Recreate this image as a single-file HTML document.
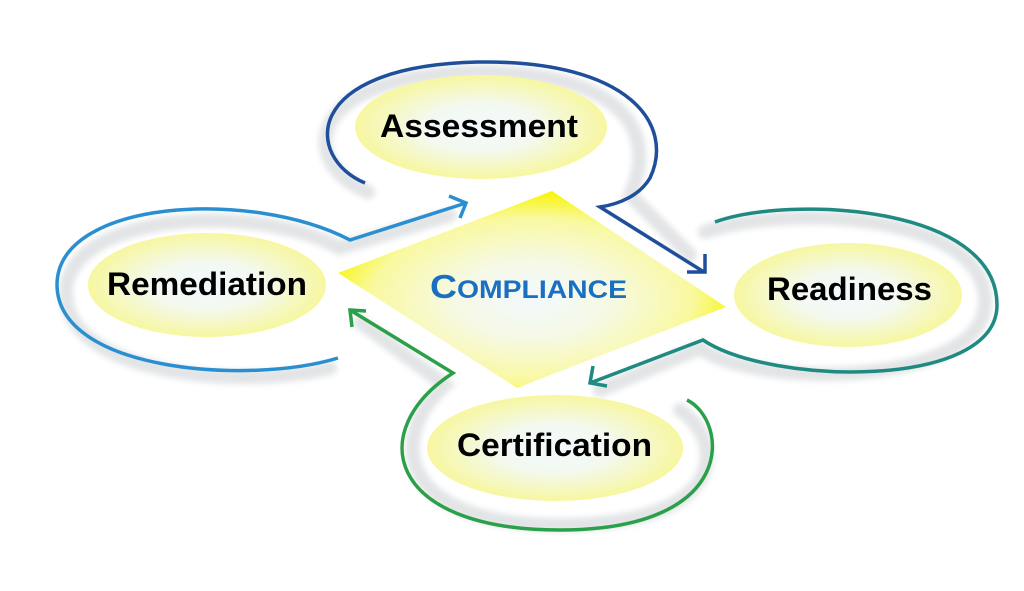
<!DOCTYPE html>
<html><head><meta charset="utf-8"><style>
html,body{margin:0;padding:0;background:#fff;width:1024px;height:591px;overflow:hidden}
svg{display:block}
text{font-family:"Liberation Sans",sans-serif;font-weight:bold}
</style></head><body>
<svg width="1024" height="591" viewBox="0 0 1024 591">
<defs>
<radialGradient id="eg" cx="0.5" cy="0.5" r="0.5">
<stop offset="0" stop-color="#f2f9fd"/><stop offset="0.45" stop-color="#f3f9f0"/><stop offset="1" stop-color="#f7f7a0"/>
</radialGradient>
<radialGradient id="dg" cx="0.5" cy="0.55" r="0.55">
<stop offset="0" stop-color="#f2f9fd"/><stop offset="0.35" stop-color="#f6f9e6"/><stop offset="0.75" stop-color="#f9f9a0"/><stop offset="1" stop-color="#f8f400"/>
</radialGradient>
<filter id="bl"><feGaussianBlur stdDeviation="3"/></filter>
</defs>
<g fill="none" stroke="#e2e4e6" stroke-width="14" filter="url(#bl)" stroke-linecap="round">
<path d="M368,192 C300,165 300,78 470,72 C620,70 660,130 630,195 L690,255"/>
<path d="M330,368 C240,390 62,375 66,290 C70,215 250,200 340,248 L450,215"/>
<path d="M705,232 C780,205 990,210 985,305 C980,385 760,390 700,348 L600,390"/>
<path d="M680,410 C725,440 730,525 560,525 C400,525 385,440 445,385 L360,322"/>
</g>
<g fill="none" stroke-width="3.5" stroke-linejoin="miter">
<path stroke="#1f4e9a" d="M365,183 C305,158 300,66 478,62 C630,60 675,125 650,178 C640,195 620,204 600,207 L704,272 M705,254 L705,272 L687,272"/>
<path stroke="#2a8fd0" d="M338,358 C250,385 58,372 57,285 C57,200 250,188 350,240 L466,203 M449,196 L466,203 L460,218"/>
<path stroke="#1f8a82" d="M715,222 C790,195 997,205 997,305 C997,390 770,385 703,340 L590,383 M593,366 L590,383 L607,386"/>
<path stroke="#2aa04a" d="M687,400 C728,420 740,530 560,530 C385,530 365,430 453,373 L350,310 M366,311 L350,310 L352,327"/>
</g>
<polygon points="552,191 726,307 517,388 338,273" fill="url(#dg)"/>
<ellipse cx="481" cy="127" rx="126" ry="52" fill="url(#eg)"/>
<ellipse cx="207" cy="285" rx="119" ry="52" fill="url(#eg)"/>
<ellipse cx="848" cy="295" rx="114" ry="52" fill="url(#eg)"/>
<ellipse cx="555" cy="448" rx="128" ry="53" fill="url(#eg)"/>
<text x="380" y="137" font-size="32" textLength="198" lengthAdjust="spacingAndGlyphs" fill="#000">Assessment</text>
<text x="107" y="295" font-size="32" textLength="200" lengthAdjust="spacingAndGlyphs" fill="#000">Remediation</text>
<text x="767" y="300" font-size="32" textLength="165" lengthAdjust="spacingAndGlyphs" fill="#000">Readiness</text>
<text x="457" y="456" font-size="32" textLength="195" lengthAdjust="spacingAndGlyphs" fill="#000">Certification</text>
<text x="430" y="298" fill="#1a6fc0" textLength="197" lengthAdjust="spacingAndGlyphs"><tspan font-size="33">C</tspan><tspan font-size="25">OMPLIANCE</tspan></text>
</svg>
</body></html>
